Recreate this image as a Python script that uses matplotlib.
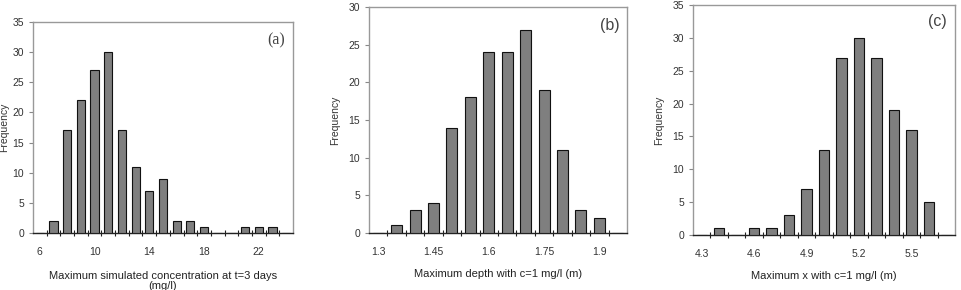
import numpy as np
import matplotlib.pyplot as plt
from matplotlib.ticker import FixedLocator

# panel (a): max simulated concentration (mg/l)
conc_bins = list(range(6, 25))
conc_freq = [0, 2, 17, 22, 27, 30, 17, 11, 7, 9, 2, 2, 1, 0, 0, 1, 1, 1, 0]
conc_ticks = [6, 10, 14, 18, 22]

# panel (b): max depth with c=1 mg/l (m)
depth_bins = [1.30, 1.35, 1.40, 1.45, 1.50, 1.55, 1.60, 1.65, 1.70, 1.75, 1.80, 1.85, 1.90, 1.95]
depth_freq = [0, 1, 3, 4, 14, 18, 24, 24, 27, 19, 11, 3, 2, 0]
depth_ticks = [1.3, 1.45, 1.6, 1.75, 1.9]
depth_ticklabels = ["1.3", "1.45", "1.6", "1.75", "1.9"]

# panel (c): max x with c=1 mg/l (m)
x_bins = [4.3, 4.4, 4.5, 4.6, 4.7, 4.8, 4.9, 5.0, 5.1, 5.2, 5.3, 5.4, 5.5, 5.6, 5.7]
x_freq = [0, 1, 0, 1, 1, 3, 7, 13, 27, 30, 27, 19, 16, 5, 0]
x_ticks = [4.3, 4.6, 4.9, 5.2, 5.5]
x_ticklabels = ["4.3", "4.6", "4.9", "5.2", "5.5"]

plt.rcParams['font.family'] = ['Liberation Sans', 'DejaVu Sans']

fig = plt.figure(figsize=(9.62, 2.9), dpi=100)


def hist_panel(rect, bins, freq, step, ticks, ticklabels, ymax, xlabel, xlabelpad,
               ylabelpad, tag, tagpos, tagfont):
    ax = fig.add_axes(rect)
    bins = np.array(bins)
    ax.bar(bins, freq, width=step * 0.6, color='#7f7f7f', edgecolor='#111111', linewidth=0.8, zorder=3)
    ax.set_xlim(bins[0] - step / 2, bins[-1] + step / 2)
    ax.set_ylim(0, ymax)
    ax.set_yticks(np.arange(0, ymax + 1, 5))
    ax.set_xticks(ticks)
    ax.set_xticklabels(ticklabels)
    ax.xaxis.set_minor_locator(FixedLocator(list(bins[:-1] + step / 2)))
    ax.tick_params(axis='x', which='major', length=0, labelsize=7.5, colors='#333333', pad=10)
    ax.tick_params(axis='x', which='minor', direction='inout', length=5, width=0.8, color='#222222')
    ax.tick_params(axis='y', labelsize=7.5, colors='#333333', length=3, width=0.8)
    ax.tick_params(axis='y', color='#888888')
    for s in ['top', 'right', 'left']:
        ax.spines[s].set_color('#999999')
        ax.spines[s].set_linewidth(1.0)
    ax.spines['bottom'].set_color('#222222')
    ax.spines['bottom'].set_linewidth(1.0)
    ax.set_xlabel(xlabel, fontsize=8, color='#222222', labelpad=xlabelpad, linespacing=1.0)
    ax.set_ylabel("Frequency", fontsize=7.5, color='#333333', labelpad=ylabelpad)
    ax.text(tagpos[0], tagpos[1], tag, transform=ax.transAxes, fontsize=11.5,
            family=tagfont, color='#444444', ha='right', va='top')
    return ax


hist_panel([0.0343, 0.1966, 0.2703, 0.7276], conc_bins, conc_freq, 1.0,
           conc_ticks, [str(t) for t in conc_ticks], 35,
           "Maximum simulated concentration at t=3 days\n(mg/l)", 10, 2, "(a)", (0.97, 0.95),
           ['Liberation Serif'])
hist_panel([0.3836, 0.1966, 0.2682, 0.7793], depth_bins, depth_freq, 0.05,
           depth_ticks, depth_ticklabels, 30,
           "Maximum depth with c=1 mg/l (m)", 9, 6, "(b)", (0.97, 0.95),
           ['Liberation Sans'])
hist_panel([0.7204, 0.1897, 0.2724, 0.7931], x_bins, x_freq, 0.1,
           x_ticks, x_ticklabels, 35,
           "Maximum x with c=1 mg/l (m)", 9, 6, "(c)", (0.97, 0.96),
           ['Liberation Sans'])

plt.savefig("out.png", dpi=100)
